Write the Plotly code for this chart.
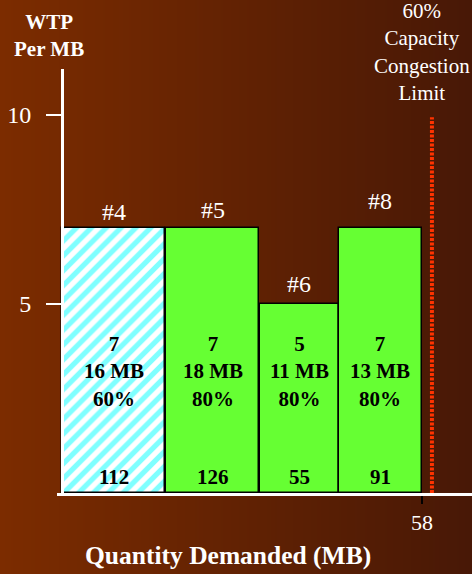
import base64
import struct
import zlib

import plotly.graph_objects as go

# --- data -------------------------------------------------------------
user_tags = ["#4", "#5", "#6", "#8"]
wtp_per_mb = [7, 7, 5, 7]
demand_mb = [16, 18, 11, 13]
share_pct = [60, 80, 80, 80]
bar_left = [0.0, 16.8, 31.9, 44.6]
bar_right = [16.6, 31.7, 44.6, 58.0]
congestion_limit_x = 59.6
congestion_limit_top = 9.93
x_tick_vals = [58]
y_tick_vals = [5, 10]

totals = [w * m for w, m in zip(wtp_per_mb, demand_mb)]
centers = [(a + b) / 2 for a, b in zip(bar_left, bar_right)]
widths = [b - a for a, b in zip(bar_left, bar_right)]

# --- styling ----------------------------------------------------------
W, H = 472, 574
SERIF = "Liberation Serif, Tinos, Times New Roman, DejaVu Serif, serif"
GREEN = "#66ff33"
CYAN = "#00ffff"
RED = "#ff3300"
tag_lift_px = [16, 18, 20, 27]
hatched = [True, False, False, False]

# page coordinates -> axis ranges
px_per_mb = 360 / 58
px_per_unit = 37.85
x_range = [(57 - 62) / px_per_mb, (W - 62) / px_per_mb]
y_range = [0, (493 - 69) / px_per_unit]


def gradient_png(left, right, n=236):
    """Horizontal gradient strip as a PNG data URI."""
    row = bytearray(b"\x00")
    for i in range(n):
        t = i / (n - 1)
        row += bytes(round(l + (r - l) * t) for l, r in zip(left, right))

    def chunk(kind, payload):
        return (struct.pack(">I", len(payload)) + kind + payload
                + struct.pack(">I", zlib.crc32(kind + payload) & 0xFFFFFFFF))

    png = (b"\x89PNG\r\n\x1a\n"
           + chunk(b"IHDR", struct.pack(">IIBBBBB", n, 1, 8, 2, 0, 0, 0))
           + chunk(b"IDAT", zlib.compress(bytes(row)))
           + chunk(b"IEND", b""))
    return "data:image/png;base64," + base64.b64encode(png).decode()


def pick(seq, flag):
    return [v for v, h in zip(seq, hatched) if h == flag]


fig = go.Figure()

# striped bar
fig.add_trace(go.Bar(
    x=pick(centers, True),
    y=pick(wtp_per_mb, True),
    width=pick(widths, True),
    marker=dict(
        color="white",
        line=dict(color="black", width=1.5),
        pattern=dict(shape="/", fgcolor=CYAN, size=10.5, solidity=0.5,
                     fillmode="overlay"),
    ),
    hoverinfo="skip",
    showlegend=False,
))

# solid bars
fig.add_trace(go.Bar(
    x=pick(centers, False),
    y=pick(wtp_per_mb, False),
    width=pick(widths, False),
    marker=dict(color=GREEN, line=dict(color="black", width=1.5)),
    hoverinfo="skip",
    showlegend=False,
))

fig.add_trace(go.Scatter(
    x=[congestion_limit_x, congestion_limit_x],
    y=[0, congestion_limit_top],
    mode="lines",
    line=dict(color=RED, width=4, dash="3px,1.5px"),
    hoverinfo="skip",
    showlegend=False,
))

annotations = []
for i, tag in enumerate(user_tags):
    annotations.append(dict(
        x=centers[i], y=wtp_per_mb[i], xref="x", yref="y",
        text=tag, showarrow=False, yanchor="middle", yshift=tag_lift_px[i],
        font=dict(family=SERIF, size=24, color="white"),
    ))
    annotations.append(dict(
        x=centers[i], y=3.2, xref="x", yref="y",
        text=f"<b>{wtp_per_mb[i]}<br>{demand_mb[i]} MB<br>{share_pct[i]}%</b>",
        showarrow=False, yanchor="middle",
        font=dict(family=SERIF, size=21, color="black"),
    ))
    annotations.append(dict(
        x=centers[i], y=0, xref="x", yref="y",
        text=f"<b>{totals[i]}</b>", showarrow=False,
        yanchor="middle", yshift=16,
        font=dict(family=SERIF, size=21, color="black"),
    ))

annotations += [
    dict(x=49 / W, y=1 - 35 / H, xref="paper", yref="paper",
         text="<b>WTP<br>Per MB</b>", showarrow=False,
         xanchor="center", yanchor="middle",
         font=dict(family=SERIF, size=21, color="white")),
    dict(x=421.5 / W, y=1 - 52 / H, xref="paper", yref="paper",
         text="60%<br>Capacity<br>Congestion<br>Limit", showarrow=False,
         xanchor="center", yanchor="middle",
         font=dict(family=SERIF, size=21, color="white")),
    dict(x=227.5 / W, y=1 - 555 / H, xref="paper", yref="paper",
         text="<b>Quantity Demanded (MB)</b>", showarrow=False,
         xanchor="center", yanchor="middle",
         font=dict(family=SERIF, size=25.5, color="white")),
]

fig.update_layout(
    width=W,
    height=H,
    margin=dict(l=0, r=0, t=0, b=0),
    paper_bgcolor="#5f2200",
    plot_bgcolor="rgba(0,0,0,0)",
    barmode="overlay",
    bargap=0,
    annotations=annotations,
    images=[dict(
        source=gradient_png((124, 44, 0), (72, 24, 6)),
        xref="paper", yref="paper", x=0, y=1, sizex=1, sizey=1,
        sizing="stretch", xanchor="left", yanchor="top", layer="below",
    )],
    xaxis=dict(
        domain=[57 / W, 1],
        range=x_range,
        showgrid=False, zeroline=False,
        showline=True, linecolor="white", linewidth=3,
        tickvals=x_tick_vals, ticktext=[str(v) for v in x_tick_vals],
        ticks="outside", tickcolor="black", ticklen=8, tickwidth=2,
        tickfont=dict(family=SERIF, size=22, color="white"),
    ),
    yaxis=dict(
        domain=[1 - 493 / H, 1 - 69 / H],
        range=y_range,
        anchor="free", position=62 / W,
        showgrid=False, zeroline=False,
        showline=True, linecolor="white", linewidth=3,
        tickvals=y_tick_vals,
        ticks="outside", tickcolor="white", ticklen=15, tickwidth=2,
        ticklabelstandoff=10,
        tickfont=dict(family=SERIF, size=24, color="white"),
    ),
)

fig.write_html("out.html")
